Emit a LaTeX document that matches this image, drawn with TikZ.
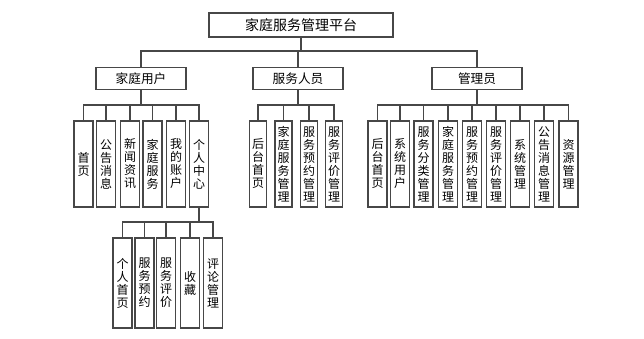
\documentclass[tikz,border=0pt]{standalone}
\usepackage{fontspec}
\setmainfont{Noto Sans CJK SC}
\begin{document}
\begin{tikzpicture}[x=0.75pt,y=-0.75pt,
  box/.style={draw=black!72,line width=0.9pt,fill=white,inner sep=0pt,align=center},
  topbox/.style={box,minimum width=138pt,minimum height=18pt,font=\fontsize{10.5}{12}\selectfont},
  midbox/.style={box,minimum width=67.5pt,minimum height=17pt,font=\fontsize{9.5}{11}\selectfont},
  vbox/.style={box,minimum width=14.25pt,minimum height=64.5pt,font=\fontsize{9}{9.75}\selectfont},
  sbox/.style={vbox,minimum width=12.75pt},
  lbox/.style={vbox,minimum height=67.5pt},
  conn/.style={draw=black!72,line width=0.9pt}]
\useasboundingbox (0,0) rectangle (644,339);
% level 1
\node[topbox] (top) at (301,25) {家庭服务管理平台};
% level 2
\node[midbox] (fam) at (141,78.5) {家庭用户};
\node[midbox] (srv) at (298,78.5) {服务人员};
\node[midbox] (adm) at (477,78.5) {管理员};
\coordinate (bus1) at (301,51);
\draw[conn] (top.south) -- (bus1);
\draw[conn] (fam.north) |- (bus1);
\draw[conn] (adm.north) |- (bus1);
\draw[conn] (srv.north) -- (srv.north |- bus1);
% level 3 family
\node[vbox] (f1) at (83.5,164) {首\\页};
\node[vbox] (f2) at (106,164) {公\\告\\消\\息};
\node[vbox] (f3) at (130,164) {新\\闻\\资\\讯};
\node[vbox] (f4) at (152.5,164) {家\\庭\\服\\务};
\node[vbox] (f5) at (176,164) {我\\的\\账\\户};
\node[vbox] (f6) at (199,164) {个\\人\\中\\心};
\coordinate (busf) at (141,105);
\draw[conn] (fam.south) -- (busf);
\foreach \n in {f1,f2,f3,f4,f5,f6} \draw[conn] (\n.north) |- (busf);
% level 3 staff
\node[sbox] (s1) at (258,164) {后\\台\\首\\页};
\node[sbox] (s2) at (283.5,164) {家\\庭\\服\\务\\管\\理};
\node[sbox] (s3) at (309,164) {服\\务\\预\\约\\管\\理};
\node[sbox] (s4) at (334,164) {服\\务\\评\\价\\管\\理};
\coordinate (buss) at (298,105);
\draw[conn] (srv.south) -- (buss);
\foreach \n in {s1,s2,s3,s4} \draw[conn] (\n.north) |- (buss);
% level 3 admin
\node[vbox] (a1) at (377.5,164) {后\\台\\首\\页};
\node[vbox] (a2) at (400,164) {系\\统\\用\\户};
\node[vbox] (a3) at (423.5,164) {服\\务\\分\\类\\管\\理};
\node[vbox] (a4) at (448,164) {家\\庭\\服\\务\\管\\理};
\node[vbox] (a5) at (472,164) {服\\务\\预\\约\\管\\理};
\node[vbox] (a6) at (496,164) {服\\务\\评\\价\\管\\理};
\node[vbox] (a7) at (520,164) {系\\统\\管\\理};
\node[vbox] (a8) at (544,164) {公\\告\\消\\息\\管\\理};
\node[vbox] (a9) at (568.5,164) {资\\源\\管\\理};
\coordinate (busa) at (477,105);
\draw[conn] (adm.south) -- (busa);
\foreach \n in {a1,a2,a3,a4,a5,a6,a7,a8,a9} \draw[conn] (\n.north) |- (busa);
% level 4
\node[lbox] (p1) at (122.5,283) {个\\人\\首\\页};
\node[lbox] (p2) at (144.5,283) {服\\务\\预\\约};
\node[lbox] (p3) at (166,283) {服\\务\\评\\价};
\node[lbox] (p4) at (190,283) {收\\藏};
\node[lbox] (p5) at (213,283) {评\\论\\管\\理};
\coordinate (busp) at (199,222);
\draw[conn] (f6.south) -- (busp);
\foreach \n in {p1,p2,p3,p4,p5} \draw[conn] (\n.north) |- (busp);
\end{tikzpicture}
\end{document}
